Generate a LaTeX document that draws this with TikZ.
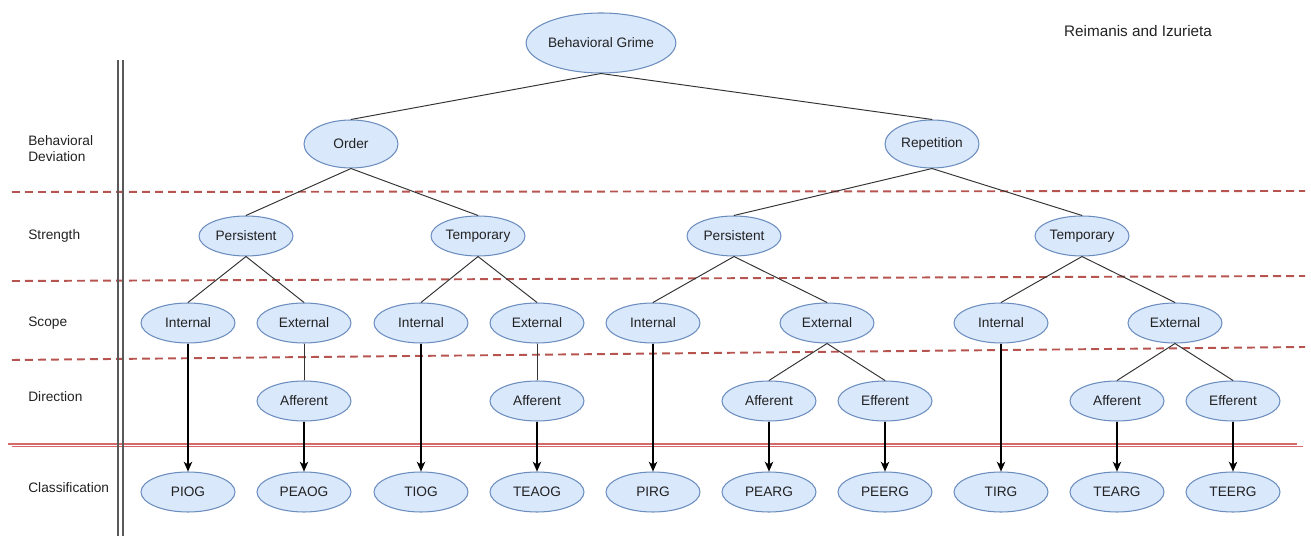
\documentclass[tikz,border=0pt]{standalone}
\usepackage{fontspec}
\setmainfont{Liberation Sans}
\usetikzlibrary{shapes.geometric,arrows.meta}
\definecolor{nfill}{HTML}{DAE8FC}
\definecolor{ndraw}{HTML}{6C8EBF}
\definecolor{dred}{HTML}{B85450}
\definecolor{lred}{HTML}{D46A6A}
\definecolor{txt}{HTML}{222222}
\begin{document}
\begin{tikzpicture}[x=0.02cm,y=-0.02cm,
  nd/.style={ellipse,draw=ndraw,fill=nfill,line width=0.6pt,inner sep=0pt,
    minimum width=1.88cm,minimum height=0.8cm,
    font=\fontsize{7.8}{9}\selectfont,text=txt},
  lbl/.style={anchor=west,inner sep=0pt,align=left,
    font=\fontsize{7.8}{9.4}\selectfont,text=txt},
  tedge/.style={draw=black!80,line width=0.55pt},
  arr/.style={draw=black,line width=0.7pt,-{Stealth[length=5.5pt,width=4.8pt,inset=1.5pt]}},
  sep/.style={draw=dred,line width=1.1pt,dash pattern=on 4.5pt off 2.9pt},
  vline/.style={draw=black!65,line width=0.8pt}]
\useasboundingbox (0,0) rectangle (1311,536);

% separators
\coordinate (s1a) at (12,192); \coordinate (s1b) at (1305,191);
\coordinate (s2a) at (12,281); \coordinate (s2b) at (1305,276);
\coordinate (s3a) at (12,360); \coordinate (s3b) at (1305,347);
\draw[sep] (s1a) -- (s1b);
\draw[sep] (s2a) -- (s2b);
\draw[sep] (s3a) -- (s3b);
\coordinate (r1a) at (8,444); \coordinate (r1b) at (1297,444);
\coordinate (r2a) at (12,446.5); \coordinate (r2b) at (1303,446.5);
\draw[draw=lred,line width=0.6pt] (r1a) -- (r1b);
\draw[draw=lred,line width=0.6pt] (r2a) -- (r2b);

% vertical double line
\coordinate (v1a) at (118,60); \coordinate (v1b) at (118,536);
\coordinate (v2a) at (123,60); \coordinate (v2b) at (123,536);
\draw[vline] (v1a) -- (v1b);
\draw[vline] (v2a) -- (v2b);

% row labels
\node[lbl] (lbd) at (28,148.5) {Behavioral\\Deviation};
\node[lbl] (lst) at (28,236) {Strength};
\node[lbl] (lsc) at (28,323) {Scope};
\node[lbl] (ldi) at (28,397) {Direction};
\node[lbl] (lcl) at (28,488) {Classification};
\node[inner sep=0pt,font=\fontsize{8.7}{10}\selectfont,text=txt] (auth) at (1138,31) {Reimanis and Izurieta};

% tree nodes
\node[nd,minimum width=2.6cm,minimum height=1.2cm] (g) at (601,43) {Behavioral Grime};
\node[nd,minimum height=0.96cm] (o) at (351,144) {Order};
\node[nd,minimum height=0.96cm] (r) at (932,144) {Repetition};

\node[nd] (op) at (246,236) {Persistent};
\node[nd] (ot) at (478,236) {Temporary};
\node[nd] (rp) at (734,236) {Persistent};
\node[nd] (rt) at (1082,236) {Temporary};

\node[nd] (opi) at (188,323) {Internal};
\node[nd] (ope) at (304,323) {External};
\node[nd] (oti) at (421,323) {Internal};
\node[nd] (ote) at (537,323) {External};
\node[nd] (rpi) at (653,323) {Internal};
\node[nd] (rpe) at (827,323) {External};
\node[nd] (rti) at (1001,323) {Internal};
\node[nd] (rte) at (1175,323) {External};

\node[nd] (opea) at (304,401) {Afferent};
\node[nd] (otea) at (537,401) {Afferent};
\node[nd] (rpea) at (769,401) {Afferent};
\node[nd] (rpee) at (885,401) {Efferent};
\node[nd] (rtea) at (1117,401) {Afferent};
\node[nd] (rtee) at (1233,401) {Efferent};

\node[nd] (c1) at (188,492) {PIOG};
\node[nd] (c2) at (304,492) {PEAOG};
\node[nd] (c3) at (421,492) {TIOG};
\node[nd] (c4) at (537,492) {TEAOG};
\node[nd] (c5) at (653,492) {PIRG};
\node[nd] (c6) at (769,492) {PEARG};
\node[nd] (c7) at (885,492) {PEERG};
\node[nd] (c8) at (1001,492) {TIRG};
\node[nd] (c9) at (1117,492) {TEARG};
\node[nd] (c10) at (1233,492) {TEERG};

% tree edges
\draw[tedge] (g.south) -- (o.north);
\draw[tedge] (g.south) -- (r.north);
\draw[tedge] (o.south) -- (op.north);
\draw[tedge] (o.south) -- (ot.north);
\draw[tedge] (r.south) -- (rp.north);
\draw[tedge] (r.south) -- (rt.north);
\draw[tedge] (op.south) -- (opi.north);
\draw[tedge] (op.south) -- (ope.north);
\draw[tedge] (ot.south) -- (oti.north);
\draw[tedge] (ot.south) -- (ote.north);
\draw[tedge] (rp.south) -- (rpi.north);
\draw[tedge] (rp.south) -- (rpe.north);
\draw[tedge] (rt.south) -- (rti.north);
\draw[tedge] (rt.south) -- (rte.north);
\draw[tedge] (ope.south) -- (opea.north);
\draw[tedge] (ote.south) -- (otea.north);
\draw[tedge] (rpe.south) -- (rpea.north);
\draw[tedge] (rpe.south) -- (rpee.north);
\draw[tedge] (rte.south) -- (rtea.north);
\draw[tedge] (rte.south) -- (rtee.north);

% arrows to classification
\draw[arr] (opi.south) -- (c1.north);
\draw[arr] (opea.south) -- (c2.north);
\draw[arr] (oti.south) -- (c3.north);
\draw[arr] (otea.south) -- (c4.north);
\draw[arr] (rpi.south) -- (c5.north);
\draw[arr] (rpea.south) -- (c6.north);
\draw[arr] (rpee.south) -- (c7.north);
\draw[arr] (rti.south) -- (c8.north);
\draw[arr] (rtea.south) -- (c9.north);
\draw[arr] (rtee.south) -- (c10.north);
\end{tikzpicture}
\end{document}
